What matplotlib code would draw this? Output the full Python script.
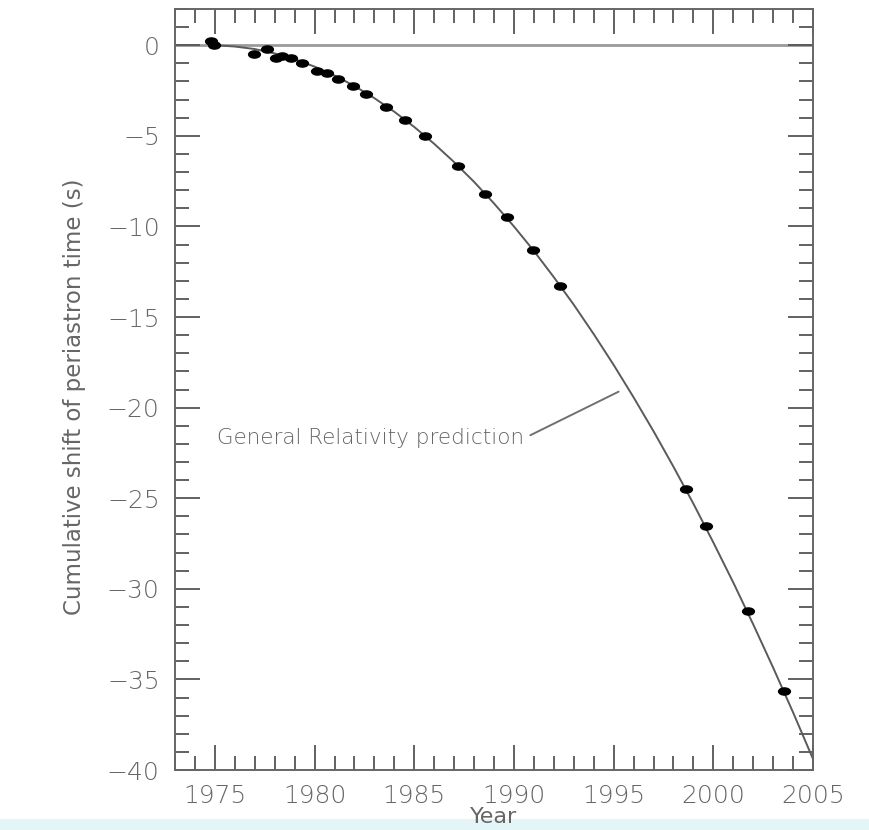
import matplotlib
matplotlib.use("Agg")
import matplotlib.pyplot as plt
from matplotlib.path import Path
from matplotlib.patches import Rectangle
from matplotlib.ticker import MultipleLocator
import matplotlib.transforms as mtransforms

# Observed data points (year, cumulative shift in seconds)
obs_year = [1974.80, 1974.95, 1976.97, 1977.63, 1978.05, 1978.38, 1978.80, 1979.35,
            1980.13, 1980.63, 1981.18, 1981.91, 1982.60, 1983.58, 1984.55, 1985.55,
            1987.20, 1988.55, 1989.63, 1990.97, 1992.30, 1998.64, 1999.62, 2001.73,
            2003.54]
obs_shift = [0.25, 0.00, -0.46, -0.20, -0.70, -0.61, -0.73, -0.98,
             -1.40, -1.53, -1.84, -2.27, -2.67, -3.43, -4.14, -5.01,
             -6.67, -8.21, -9.50, -11.29, -13.28, -24.51, -26.56, -31.21,
             -35.66]

# General Relativity prediction curve
gr_year = [1975, 1976, 1977, 1978, 1979, 1980, 1981, 1982, 1983, 1984, 1985,
           1986, 1987, 1988, 1989, 1990, 1991, 1992, 1993, 1994, 1995,
           1996, 1997, 1998, 1999, 2000, 2001, 2002, 2003, 2004, 2005]
gr_shift = [0.00, -0.07, -0.21, -0.45, -0.77, -1.18, -1.67, -2.25, -2.92, -3.67, -4.51,
            -5.44, -6.45, -7.54, -8.73, -10.00, -11.35, -12.80, -14.32, -15.94, -17.64,
            -19.43, -21.30, -23.26, -25.30, -27.44, -29.65, -31.96, -34.35, -36.82, -39.39]

x_ticks = [1975, 1980, 1985, 1990, 1995, 2000, 2005]
y_ticks = [0, -5, -10, -15, -20, -25, -30, -35, -40]

label_text = "General Relativity prediction"

plt.rcParams['font.family'] = ['DejaVu Sans']
plt.rcParams['font.weight'] = 'light'
TXT = '#666666'
LINE = '#5a5a5a'

fig = plt.figure(figsize=(8.69, 8.30), dpi=100)
fig.patch.set_facecolor('white')

# bottom light band (drawn beneath everything)
fig.patches.append(Rectangle((0, 0), 1, 11/830, transform=fig.transFigure,
                             facecolor='#e4f5f7', edgecolor='none', zorder=-10))

ax = fig.add_axes([175/869, 1-770/830, 638/869, 761/830])
ax.set_facecolor('none')

ax.axhline(0, color='#9a9a9a', lw=2.0, zorder=1)
ax.plot(gr_year, gr_shift, color=LINE, lw=1.4, zorder=2)

ell = Path.unit_circle().transformed(mtransforms.Affine2D().scale(1.65, 1.0))
ax.plot(obs_year, obs_shift, linestyle='none', marker=ell, markersize=8.5,
        color='black', zorder=3)

ax.annotate(label_text, xy=(1995.25, -19.12), xytext=(1975.1, -21.7),
            fontsize=15.5, color=TXT, va='center', ha='left',
            arrowprops=dict(arrowstyle='-', color='#707070', lw=1.4,
                            relpos=(1.0, 0.5), shrinkA=3, shrinkB=0))

ax.set_xlim(1973, 2005)
ax.set_ylim(-40, 2)
ax.set_xticks(x_ticks)
ax.set_yticks(y_ticks)
ax.xaxis.set_minor_locator(MultipleLocator(1))
ax.yaxis.set_minor_locator(MultipleLocator(1))
ax.tick_params(which='both', direction='in', top=True, right=True,
               color='#555555', width=1.3, labelcolor=TXT, labelsize=18)
ax.tick_params(which='major', length=18)
ax.tick_params(which='minor', length=10)
ax.tick_params(axis='x', which='major', pad=10)
ax.tick_params(axis='y', which='major', pad=11)
for s in ax.spines.values():
    s.set_color('#666666')
    s.set_linewidth(1.4)

ax.set_xlabel('Year', fontsize=16, color=TXT)
ax.xaxis.set_label_coords(0.5, -0.049)
ax.set_ylabel('Cumulative shift of periastron time (s)', fontsize=16.5, color=TXT)
ax.yaxis.set_label_coords(-0.139, 0.49)

fig.savefig('out.png', dpi=100)
